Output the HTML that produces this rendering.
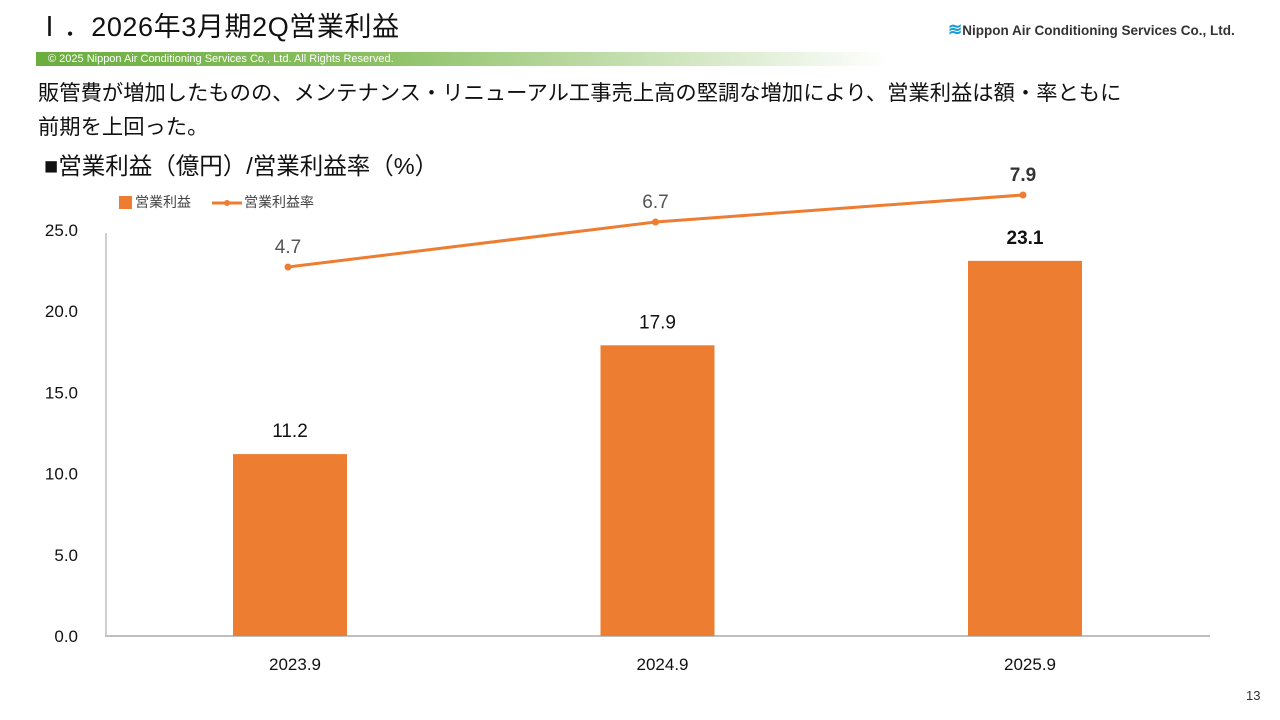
<!DOCTYPE html>
<html><head><meta charset="utf-8"><style>
body{margin:0;width:1280px;height:720px;background:#fff;overflow:hidden;position:relative;font-family:"Liberation Sans","Noto Sans CJK JP",sans-serif;}
.abs{position:absolute;}
</style></head><body>
<div class="abs" style="left:36px;top:5px;font-size:27px;letter-spacing:0.6px;color:#111;">Ⅰ．2026年3月期2Q営業利益</div>
<div class="abs" style="left:948px;top:20px;font-size:13.5px;font-weight:bold;color:#333;white-space:nowrap;"><span style="color:#1a9ad6;font-size:17px;">≋</span>Nippon Air Conditioning Services Co., Ltd.</div>
<div class="abs" style="left:36px;top:52px;width:840px;height:14px;background:linear-gradient(90deg,#6aae3e 0%,#8cc063 40%,#fff 100%);color:#fff;font-size:11px;line-height:14px;padding-left:12px;">© 2025 Nippon Air Conditioning Services Co., Ltd. All Rights Reserved.</div>
<div class="abs" style="left:38px;top:76px;font-size:21.3px;line-height:34px;color:#111;white-space:nowrap;">販管費が増加したものの、メンテナンス・リニューアル工事売上高の堅調な増加により、営業利益は額・率ともに<br>前期を上回った。</div>
<div class="abs" style="left:44px;top:147px;font-size:23.5px;color:#111;white-space:nowrap;">■営業利益（億円）/営業利益率（%）</div>
<svg id="chart" class="abs" style="left:0;top:0" width="1280" height="720"></svg>
<div class="abs" style="left:1246px;top:688px;font-size:13px;color:#333;">13</div>
<script>
const categories=["2023.9","2024.9","2025.9"];
const profit=[11.2,17.9,23.1];
const rate=[4.7,6.7,7.9];
const yTicks=[0,5,10,15,20,25];
const ns="http://www.w3.org/2000/svg";
const svg=document.getElementById('chart');
const y=v=>636-v*16.24;
const y2=v=>372.75-v*22.5;
const x=i=>290+i*367.5;
function el(t,a,txt){const e=document.createElementNS(ns,t);for(const k in a)e.setAttribute(k,a[k]);if(txt!==undefined)e.textContent=txt;svg.appendChild(e);return e;}
let e;
e=el('line',{x1:106,y1:233,x2:106,y2:636,stroke:'#d0d0d0','stroke-width':2});

e=el('line',{x1:105,y1:636,x2:1210,y2:636,stroke:'#bfbfbf','stroke-width':2});

yTicks.forEach(t=>{e=el('text',{x:78,y:y(t)+6,'text-anchor':'end','font-size':17,fill:'#111'},t.toFixed(1));
});
categories.forEach((c,i)=>{
e=el('rect',{x:x(i)-57,y:y(profit[i]),width:114,height:636-y(profit[i]),fill:'#ed7d31'});

e=el('text',{x:x(i),y:y(profit[i])-17,'text-anchor':'middle','font-size':19,fill:'#111','font-weight':i==2?'bold':'normal'},profit[i].toFixed(1));

e=el('text',{x:x(i)+5,y:670,'text-anchor':'middle','font-size':17,fill:'#111'},c);

});
e=el('polyline',{points:rate.map((v,i)=>(x(i)-2)+','+y2(v)).join(' '),fill:'none',stroke:'#ed7d31','stroke-width':3});

rate.forEach((v,i)=>{
e=el('circle',{cx:x(i)-2,cy:y2(v),r:3.5,fill:'#ed7d31'});

e=el('text',{x:x(i)-2,y:y2(v)-14,'text-anchor':'middle','font-size':19,fill:i==2?'#333':'#555','font-weight':i==2?'bold':'normal'},v.toFixed(1));

});
e=el('rect',{x:119,y:196,width:13,height:13,fill:'#ed7d31'});

e=el('text',{x:135,y:207,'font-size':14,fill:'#444'},'営業利益');

e=el('line',{x1:212,y1:203,x2:242,y2:203,stroke:'#ed7d31','stroke-width':3});

e=el('circle',{cx:227,cy:203,r:3,fill:'#ed7d31'});

e=el('text',{x:244,y:207,'font-size':14,fill:'#444'},'営業利益率');

</script>
</body></html>
